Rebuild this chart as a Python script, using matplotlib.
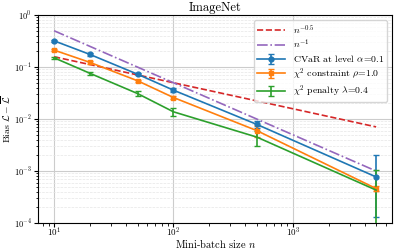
import numpy as np
import matplotlib
matplotlib.use("Agg")
import matplotlib.pyplot as plt

plt.rcParams['font.family'] = 'serif'
plt.rcParams['font.serif'] = ['cmr10', 'DejaVu Serif']
plt.rcParams['mathtext.fontset'] = 'cm'
plt.rcParams['axes.formatter.use_mathtext'] = True

n = np.array([10, 20, 50, 100, 500, 5000])

cvar = np.array([0.32, 0.175, 0.073, 0.036, 0.0079, 0.00077])
cvar_lo = np.array([0.015, 0.008, 0.004, 0.003, 0.0012, 0.00064])
cvar_hi = np.array([0.015, 0.008, 0.004, 0.003, 0.0012, 0.0013])

chi_con = np.array([0.212, 0.123, 0.0546, 0.026, 0.006, 0.00046])
chi_con_err = np.array([0.01, 0.006, 0.003, 0.0015, 0.0015, 0.00005])

chi_pen = np.array([0.151, 0.0758, 0.031, 0.0138, 0.0045, 0.00043])
chi_pen_err = np.array([0.006, 0.005, 0.0035, 0.0024, 0.0015, 0.0006])

ref_n = np.array([10, 5000])
ref_half = 0.5 * ref_n ** -0.5
ref_one = 5.0 / ref_n

fig = plt.figure(figsize=(3.98, 2.52), dpi=100)
ax = fig.add_axes([0.0955, 0.115, 0.89, 0.825])

ax.plot(ref_n, ref_half, color='tab:red', ls='--', lw=1.2, label=r'$n^{-0.5}$')
ax.plot(ref_n, ref_one, color='tab:purple', ls='-.', lw=1.2, label=r'$n^{-1}$')
ax.errorbar(n, cvar, yerr=[cvar_lo, cvar_hi], color='tab:blue', marker='o', ms=3.5,
            lw=1.2, capsize=2, label=r'CVaR at level $\alpha$=0.1')
ax.errorbar(n, chi_con, yerr=chi_con_err, color='tab:orange', marker='s', ms=3.5,
            lw=1.2, capsize=2, label=r'$\chi^2$ constraint $\rho$=1.0')
ax.errorbar(n, chi_pen, yerr=chi_pen_err, color='tab:green', marker='', ms=2,
            lw=1.2, capsize=2, label=r'$\chi^2$ penalty $\lambda$=0.4')

ax.set_xscale('log')
ax.set_yscale('log')
ax.set_ylim(1e-4, 1)
ax.grid(True, which='major', color='#cccccc', lw=0.8)
ax.grid(True, which='minor', axis='y', color='#e6e6e6', ls='--', lw=0.5)
ax.set_axisbelow(True)
ax.tick_params(labelsize=6.5, pad=1.5, length=3)
ax.tick_params(axis='x', pad=-1)
ax.tick_params(axis='y', labelsize=6)
ax.tick_params(which='minor', length=1.8)
ax.set_title('ImageNet', fontsize=9, pad=3)
ax.set_xlabel(r'Mini-batch size $n$', fontsize=7.5)
ax.set_ylabel(r'Bias $\mathcal{L}-\overline{\mathcal{L}}$', fontsize=7)
ax.xaxis.set_label_coords(0.5, -0.07)
ax.yaxis.set_label_coords(-0.072, 0.5)
ax.legend(loc='upper right', fontsize=7, framealpha=0.8, handlelength=2.9,
          borderpad=0.3, labelspacing=0.2, borderaxespad=0.5)

fig.savefig('out.png', dpi=100)
